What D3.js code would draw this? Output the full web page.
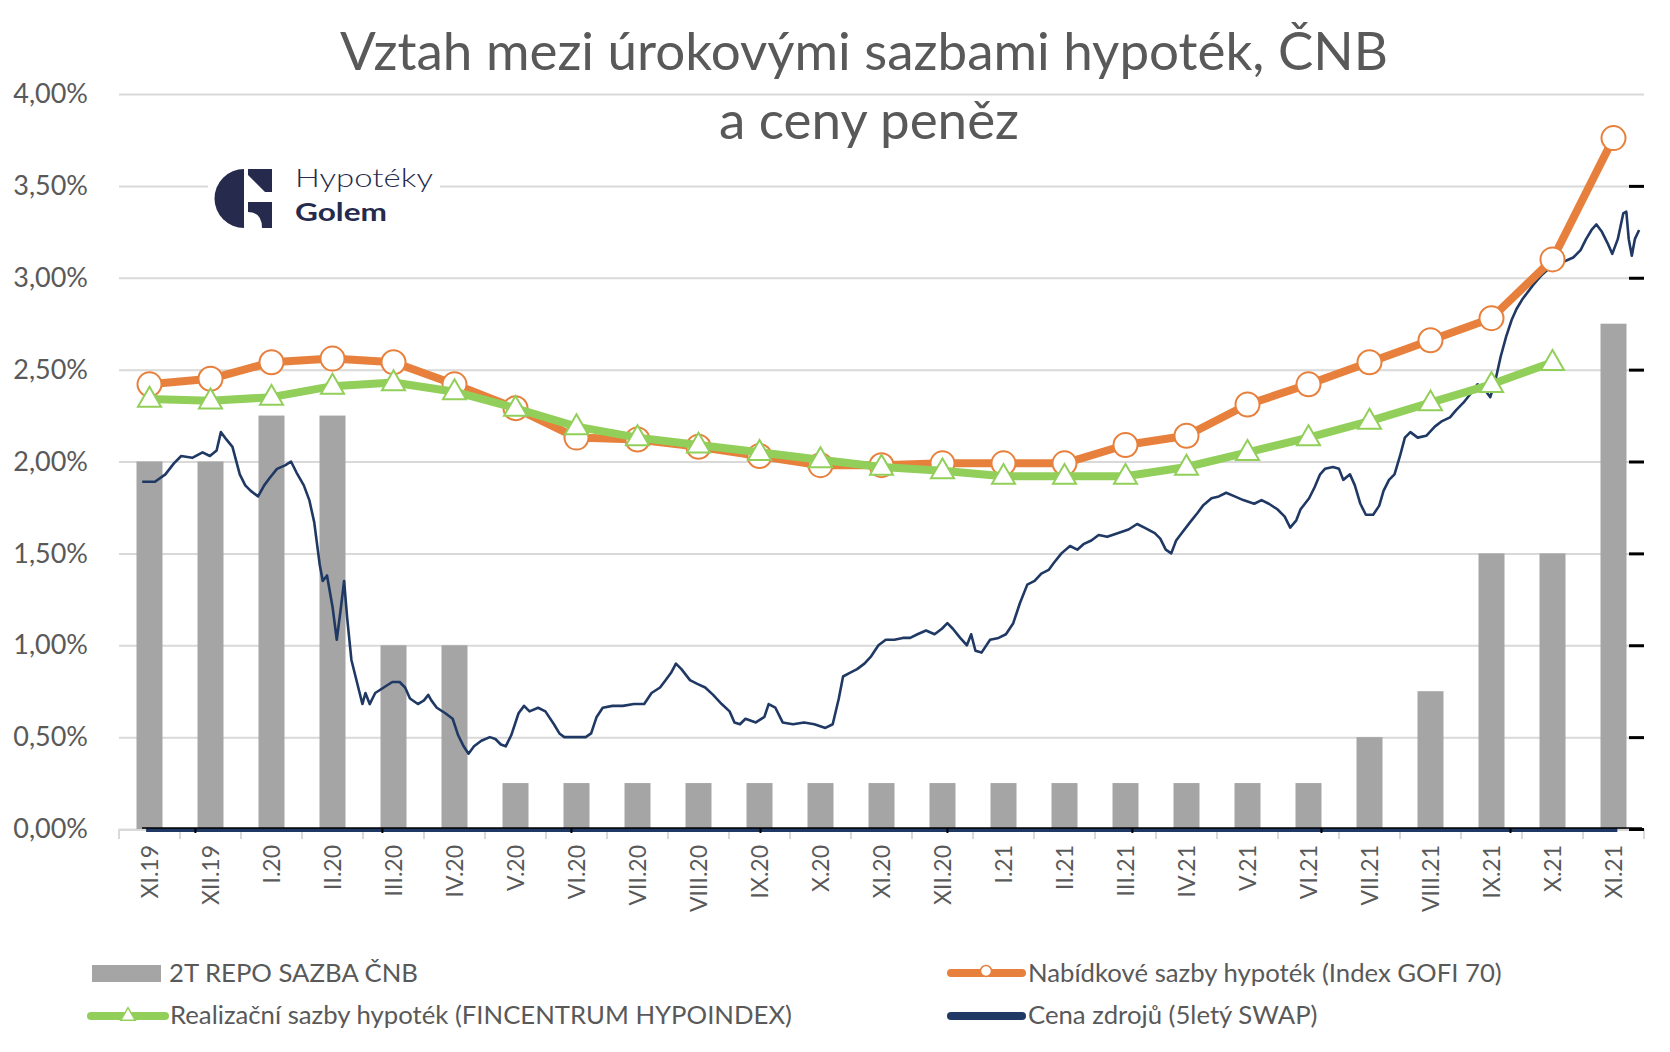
<!DOCTYPE html>
<html>
<head>
<meta charset="utf-8">
<script src="https://cdn.jsdelivr.net/npm/d3@7"></script>
<style>
  body { margin: 0; background: #fff; }
  text { font-family: Lato, "Noto Sans", sans-serif; }
</style>
</head>
<body>
<svg id="chart"></svg>
<script>
// categories (months)
const months = ["XI.19", "XII.19", "I.20", "II.20", "III.20", "IV.20", "V.20", "VI.20", "VII.20", "VIII.20",
  "IX.20", "X.20", "XI.20", "XII.20", "I.21", "II.21", "III.21", "IV.21", "V.21", "VI.21",
  "VII.21", "VIII.21", "IX.21", "X.21", "XI.21"];

// 2T repo sazba CNB (%)
const repo = [2.00, 2.00, 2.25, 2.25, 1.00, 1.00, 0.25, 0.25, 0.25, 0.25,
  0.25, 0.25, 0.25, 0.25, 0.25, 0.25, 0.25, 0.25, 0.25, 0.25,
  0.50, 0.75, 1.50, 1.50, 2.75];

// Nabidkove sazby hypotek (Index GOFI 70)
const gofi = [2.42, 2.45, 2.54, 2.56, 2.54, 2.42, 2.29, 2.13, 2.12, 2.08,
  2.03, 1.98, 1.98, 1.99, 1.99, 1.99, 2.09, 2.14, 2.31, 2.42,
  2.54, 2.66, 2.78, 3.10, 3.76];

// Realizacni sazby hypotek (FINCENTRUM HYPOINDEX)
const hypoindex = [2.34, 2.33, 2.35, 2.41, 2.43, 2.38, 2.29, 2.19, 2.13, 2.09,
  2.05, 2.01, 1.97, 1.95, 1.92, 1.92, 1.92, 1.97, 2.05, 2.13,
  2.22, 2.32, 2.42, 2.54, null];

// Cena zdroju (5lety SWAP), [month offset from XI.19, %]
const swap = [
  [-0.12, 1.89], [0.09, 1.89], [0.26, 1.93], [0.40, 1.99], [0.52, 2.03], [0.70, 2.02], [0.87, 2.05],
  [0.99, 2.03], [1.10, 2.06], [1.17, 2.16], [1.26, 2.12], [1.36, 2.08], [1.48, 1.93], [1.57, 1.87],
  [1.66, 1.84], [1.78, 1.81], [1.88, 1.87], [1.97, 1.91], [2.09, 1.96], [2.23, 1.98], [2.32, 2.00],
  [2.41, 1.94], [2.53, 1.87], [2.62, 1.79], [2.70, 1.67], [2.79, 1.44], [2.84, 1.35], [2.91, 1.38],
  [3.00, 1.21], [3.07, 1.03], [3.14, 1.21], [3.19, 1.35], [3.24, 1.15], [3.31, 0.92], [3.40, 0.80],
  [3.49, 0.68], [3.54, 0.74], [3.61, 0.68], [3.70, 0.74], [3.84, 0.77], [3.98, 0.80], [4.10, 0.80],
  [4.19, 0.77], [4.27, 0.71], [4.40, 0.68], [4.50, 0.70], [4.57, 0.73], [4.62, 0.70], [4.71, 0.66],
  [4.85, 0.63], [4.97, 0.60], [5.06, 0.51], [5.15, 0.45], [5.23, 0.41], [5.32, 0.45], [5.44, 0.48],
  [5.58, 0.50], [5.67, 0.49], [5.76, 0.46], [5.84, 0.45], [5.93, 0.51], [6.05, 0.63], [6.14, 0.67],
  [6.23, 0.64], [6.37, 0.66], [6.49, 0.64], [6.63, 0.57], [6.72, 0.52], [6.80, 0.50], [6.98, 0.50],
  [7.15, 0.50], [7.24, 0.52], [7.33, 0.61], [7.43, 0.66], [7.59, 0.67], [7.76, 0.67], [7.94, 0.68],
  [8.11, 0.68], [8.23, 0.74], [8.37, 0.77], [8.46, 0.81], [8.55, 0.85], [8.63, 0.90], [8.72, 0.87],
  [8.86, 0.81], [8.98, 0.79], [9.11, 0.77], [9.24, 0.73], [9.38, 0.68], [9.51, 0.64], [9.59, 0.58],
  [9.68, 0.57], [9.77, 0.60], [9.94, 0.58], [10.08, 0.61], [10.15, 0.68], [10.26, 0.66], [10.38, 0.58],
  [10.55, 0.57], [10.73, 0.58], [10.90, 0.57], [11.08, 0.55], [11.20, 0.57], [11.30, 0.71], [11.37, 0.83],
  [11.48, 0.85], [11.60, 0.87], [11.72, 0.90], [11.83, 0.94], [11.95, 1.00], [12.07, 1.03], [12.21, 1.03],
  [12.35, 1.04], [12.47, 1.04], [12.59, 1.06], [12.73, 1.08], [12.87, 1.06], [12.99, 1.09], [13.08, 1.12],
  [13.17, 1.09], [13.29, 1.04], [13.40, 1.00], [13.47, 1.06], [13.54, 0.97], [13.64, 0.96], [13.78, 1.03],
  [13.92, 1.04], [14.04, 1.06], [14.16, 1.12], [14.27, 1.23], [14.39, 1.33], [14.51, 1.35], [14.62, 1.39],
  [14.74, 1.41], [14.83, 1.45], [14.95, 1.50], [15.09, 1.54], [15.21, 1.52], [15.31, 1.55], [15.44, 1.57],
  [15.56, 1.60], [15.70, 1.59], [15.87, 1.61], [16.05, 1.63], [16.19, 1.66], [16.31, 1.64], [16.48, 1.61],
  [16.57, 1.58], [16.66, 1.52], [16.75, 1.50], [16.83, 1.57], [16.92, 1.61], [17.06, 1.67], [17.18, 1.72],
  [17.27, 1.76], [17.41, 1.80], [17.53, 1.81], [17.65, 1.83], [17.79, 1.81], [17.93, 1.79], [18.11, 1.77],
  [18.23, 1.79], [18.35, 1.77], [18.49, 1.74], [18.61, 1.70], [18.70, 1.64], [18.80, 1.68], [18.87, 1.74],
  [19.01, 1.80], [19.10, 1.86], [19.19, 1.93], [19.27, 1.96], [19.40, 1.97], [19.50, 1.96], [19.57, 1.90],
  [19.68, 1.93], [19.76, 1.87], [19.85, 1.77], [19.94, 1.71], [20.06, 1.71], [20.16, 1.76], [20.23, 1.84],
  [20.32, 1.90], [20.41, 1.93], [20.50, 2.03], [20.58, 2.13], [20.67, 2.16], [20.79, 2.13], [20.93, 2.14],
  [21.07, 2.19], [21.19, 2.22], [21.32, 2.24], [21.42, 2.28], [21.54, 2.32], [21.66, 2.37], [21.77, 2.42],
  [21.89, 2.39], [21.98, 2.35], [22.07, 2.45], [22.15, 2.57], [22.24, 2.68], [22.33, 2.77], [22.41, 2.83],
  [22.50, 2.88], [22.59, 2.92], [22.68, 2.96], [22.81, 3.01], [22.94, 3.05], [23.06, 3.07], [23.20, 3.09],
  [23.34, 3.11], [23.46, 3.15], [23.55, 3.21], [23.64, 3.26], [23.72, 3.29], [23.81, 3.25], [23.90, 3.19],
  [23.98, 3.13], [24.07, 3.21], [24.16, 3.35], [24.21, 3.36], [24.25, 3.21], [24.30, 3.12], [24.35, 3.21],
  [24.42, 3.26]
];

const yTicks = [0, 0.5, 1, 1.5, 2, 2.5, 3, 3.5, 4];
const rightTicks = [0, 0.5, 1, 1.5, 2, 2.5, 3, 3.5];
const legendItems = ["2T REPO SAZBA ČNB", "Realizační sazby hypoték (FINCENTRUM HYPOINDEX)",
  "Nabídkové sazby hypoték (Index GOFI 70)", "Cena zdrojů (5letý SWAP)"];
const titleLines = ["Vztah mezi úrokovými sazbami hypoték, ČNB", "a ceny peněz"];

const W = 1670, H = 1052;
const plotL = 119, plotR = 1644, plotT = 94, plotB = 829;
const textColor = "#595959";
const cBar = "#a5a5a5", cOrange = "#e7803c", cGreen = "#92cf5a", cNavy = "#1f3864";

const svg = d3.select("#chart").attr("width", W).attr("height", H);
svg.append("rect").attr("width", W).attr("height", H).attr("fill", "#fff");

const x = d3.scaleBand().domain(months).range([plotL, plotR]).paddingInner(0.574).paddingOuter(0.287);
const xc = d => x(d) + x.bandwidth() / 2;
const xt = d3.scaleLinear().domain([0, months.length - 1]).range([xc(months[0]), xc(months[months.length - 1])]);
const y = d3.scaleLinear().domain([0, 4]).range([plotB, plotT]);

// secondary date axis (swap series)
const dateX = d3.scaleTime().domain([new Date(2019, 10, 5), new Date(2021, 10, 4)]).range([142, 1642]);

function fitWidth(sel, target) {
  const size = parseFloat(sel.attr("font-size"));
  const w = sel.node().getComputedTextLength();
  sel.attr("font-size", size * target / w);
}

// gridlines
svg.append("g")
  .attr("transform", `translate(${plotL},0)`)
  .call(d3.axisLeft(y).tickValues(yTicks).tickSize(-(plotR - plotL)).tickFormat(""))
  .call(g => g.select(".domain").remove())
  .call(g => g.selectAll("line").attr("stroke", "#d9d9d9").attr("stroke-width", 2));

// y labels
const yAxis = svg.append("g")
  .attr("transform", "translate(88,0)")
  .call(d3.axisLeft(y).tickValues(yTicks).tickSize(0).tickPadding(0)
    .tickFormat(d => d3.format(".2f")(d).replace(".", ",") + "%"))
  .call(g => g.select(".domain").remove());
yAxis.selectAll("text").attr("fill", textColor).attr("font-size", 27).attr("font-family", "Lato, sans-serif");

// x axis base line and category boundary ticks
svg.append("line").attr("x1", plotL).attr("x2", plotR).attr("y1", plotB + 1).attr("y2", plotB + 1)
  .attr("stroke", "#d9d9d9").attr("stroke-width", 2);
svg.append("g").selectAll("line")
  .data(d3.range(months.length + 1))
  .join("line")
  .attr("x1", i => plotL + i * x.step()).attr("x2", i => plotL + i * x.step())
  .attr("y1", plotB).attr("y2", plotB + 10)
  .attr("stroke", "#d9d9d9").attr("stroke-width", 2);

// x labels
svg.append("g").selectAll("text")
  .data(months)
  .join("text")
  .attr("transform", d => `translate(${xc(d)},${plotB + 16}) rotate(-90)`)
  .attr("text-anchor", "end")
  .attr("dy", "0.36em")
  .attr("font-size", 23)
  .attr("fill", textColor)
  .text(d => d);

// bars
svg.append("g").selectAll("rect")
  .data(months)
  .join("rect")
  .attr("x", d => x(d))
  .attr("width", x.bandwidth())
  .attr("y", (d, i) => y(repo[i]))
  .attr("height", (d, i) => y(0) - y(repo[i]))
  .attr("fill", cBar);

// secondary axis line at zero and quarter ticks
svg.append("line")
  .attr("x1", dateX(new Date(2019, 10, 7))).attr("x2", dateX(new Date(2021, 9, 23)))
  .attr("y1", plotB + 1).attr("y2", plotB + 1)
  .attr("stroke", cNavy).attr("stroke-width", 4);
svg.append("line")
  .attr("x1", dateX.range()[0]).attr("x2", dateX.range()[1])
  .attr("y1", plotB - 1).attr("y2", plotB - 1)
  .attr("stroke", "#000").attr("stroke-width", 1.5);
svg.append("g").selectAll("line")
  .data(d3.timeMonth.range(new Date(2019, 11, 1), dateX.domain()[1], 3))
  .join("line")
  .attr("x1", d => dateX(d)).attr("x2", d => dateX(d))
  .attr("y1", plotB - 1).attr("y2", plotB + 4)
  .attr("stroke", "#000").attr("stroke-width", 2);

// right axis ticks
svg.append("g")
  .attr("transform", `translate(${plotR},0)`)
  .call(d3.axisRight(y).tickValues(rightTicks).tickSize(-15).tickFormat(""))
  .call(g => g.select(".domain").remove())
  .call(g => g.selectAll("line").attr("stroke", "#000").attr("stroke-width", 3));

// swap line
svg.append("path")
  .datum(swap)
  .attr("fill", "none")
  .attr("stroke", cNavy)
  .attr("stroke-width", 2.6)
  .attr("stroke-linejoin", "round")
  .attr("d", d3.line().x(d => xt(d[0])).y(d => y(d[1])));

// GOFI line + circles
const gofiData = months.map((m, i) => ({ m, v: gofi[i] }));
svg.append("path")
  .datum(gofiData)
  .attr("fill", "none")
  .attr("stroke", cOrange)
  .attr("stroke-width", 8)
  .attr("stroke-linejoin", "round")
  .attr("d", d3.line().x(d => xc(d.m)).y(d => y(d.v)));
svg.append("g").selectAll("circle")
  .data(gofiData)
  .join("circle")
  .attr("cx", d => xc(d.m))
  .attr("cy", d => y(d.v))
  .attr("r", 12)
  .attr("fill", "#fff")
  .attr("stroke", cOrange)
  .attr("stroke-width", 2);

// HYPOINDEX line + triangles
const hypoData = months.map((m, i) => ({ m, v: hypoindex[i] })).filter(d => d.v != null);
svg.append("path")
  .datum(hypoData)
  .attr("fill", "none")
  .attr("stroke", cGreen)
  .attr("stroke-width", 8)
  .attr("stroke-linejoin", "round")
  .attr("d", d3.line().x(d => xc(d.m)).y(d => y(d.v)));
const tri = d3.symbol().type(d3.symbolTriangle).size(230);
svg.append("g").selectAll("path")
  .data(hypoData)
  .join("path")
  .attr("transform", d => `translate(${xc(d.m)},${y(d.v) + 1})`)
  .attr("d", tri)
  .attr("fill", "#fff")
  .attr("stroke", cGreen)
  .attr("stroke-width", 2);

// logo
const logo = svg.append("g");
logo.append("rect").attr("x", 208).attr("y", 160).attr("width", 232).attr("height", 76).attr("fill", "#fff");
logo.append("path").attr("d", "M244,169 A29.5,29.5 0 0 0 244,228 Z").attr("fill", "#262a4d");
logo.append("path").attr("d", "M248,169 H272 V192 H265 L248,175 Z").attr("fill", "#262a4d");
logo.append("path").attr("d", "M248,202 H272 V228 H262 Q262,212 248,212 Z").attr("fill", "#262a4d");
logo.append("text").attr("x", 295).attr("y", 187).attr("font-size", 25).attr("font-weight", 300)
  .attr("fill", "#262a4d").attr("textLength", 138).attr("lengthAdjust", "spacingAndGlyphs").text("Hypotéky");
logo.append("text").attr("x", 295).attr("y", 221).attr("font-size", 24).attr("font-weight", 700)
  .attr("fill", "#262a4d").attr("textLength", 92).attr("lengthAdjust", "spacingAndGlyphs").text("Golem");

// title
const t1 = svg.append("text").attr("x", 864).attr("y", 70).attr("text-anchor", "middle")
  .attr("font-size", 52).attr("fill", textColor).text(titleLines[0]);
fitWidth(t1, 1048);
svg.append("text").attr("x", 869).attr("y", 139).attr("text-anchor", "middle")
  .attr("font-size", t1.attr("font-size")).attr("fill", textColor).text(titleLines[1]);

// legend
const lg = svg.append("g");
lg.append("rect").attr("x", 92).attr("y", 965).attr("width", 69).attr("height", 17).attr("fill", cBar);
lg.append("line").attr("x1", 91).attr("x2", 165).attr("y1", 1016).attr("y2", 1016)
  .attr("stroke", cGreen).attr("stroke-width", 8).attr("stroke-linecap", "round");
lg.append("path").attr("transform", "translate(128,1016)")
  .attr("d", d3.symbol().type(d3.symbolTriangle).size(90)).attr("fill", "#fff").attr("stroke", cGreen).attr("stroke-width", 1.5);
lg.append("line").attr("x1", 951).attr("x2", 1022).attr("y1", 973).attr("y2", 973)
  .attr("stroke", cOrange).attr("stroke-width", 8).attr("stroke-linecap", "round");
lg.append("circle").attr("cx", 986).attr("cy", 971).attr("r", 5.5).attr("fill", "#fff").attr("stroke", cOrange).attr("stroke-width", 1.5);
lg.append("line").attr("x1", 951).attr("x2", 1022).attr("y1", 1016).attr("y2", 1016)
  .attr("stroke", cNavy).attr("stroke-width", 8).attr("stroke-linecap", "round");

const legendPos = [[169, 982, 237], [170, 1024, 619], [1028, 982, 487], [1028, 1024, 297]];
const legTexts = legendItems.map((s, i) => lg.append("text")
  .attr("x", legendPos[i][0]).attr("y", legendPos[i][1])
  .attr("font-size", 26).attr("fill", textColor).text(s));
// one common size, fitted to the widths
const ratio = d3.mean(legTexts, (t, i) => legendPos[i][2] / t.node().getComputedTextLength());
legTexts.forEach(t => t.attr("font-size", 26 * ratio));
</script>
</body>
</html>
